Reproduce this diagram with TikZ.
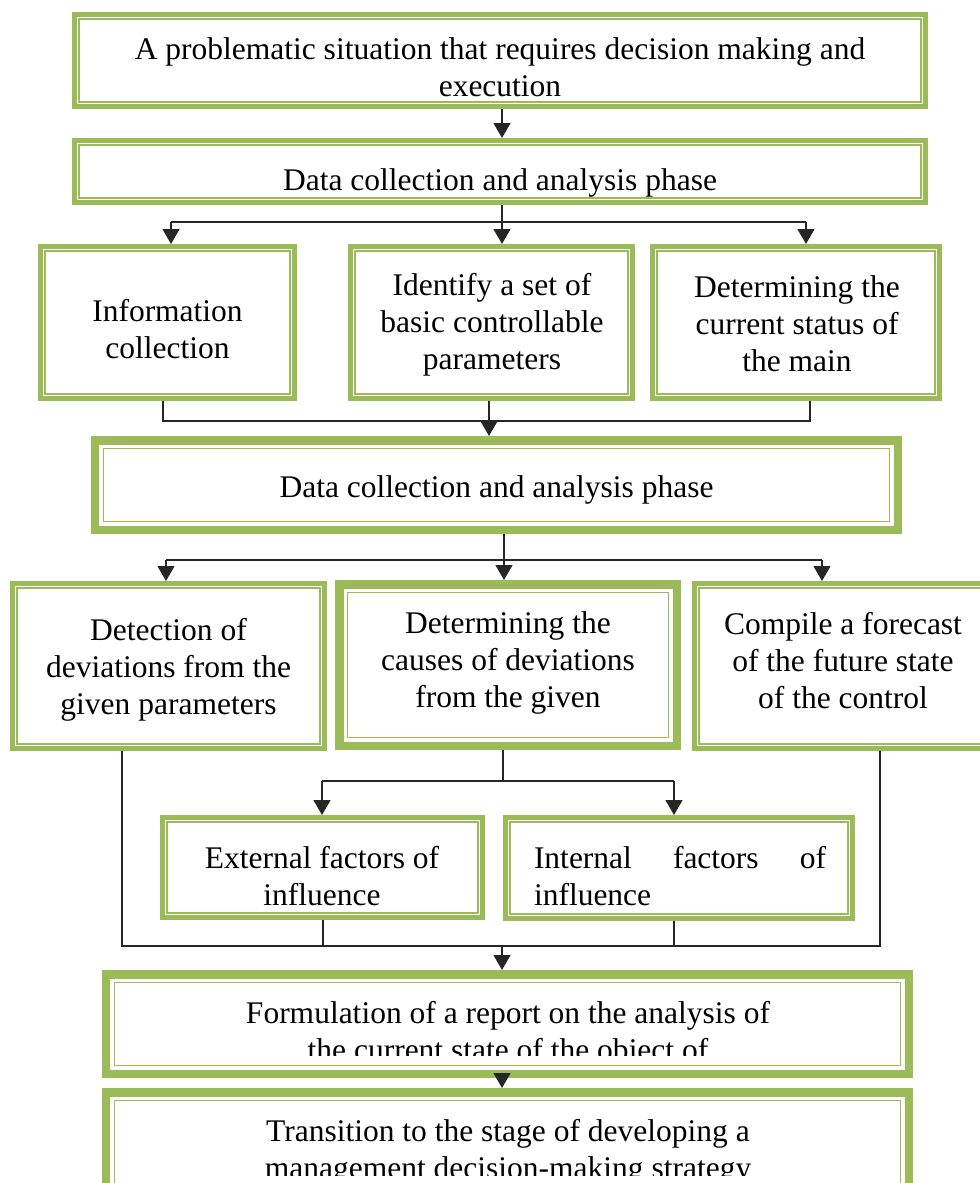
\documentclass[tikz,border=0pt]{standalone}
\usepackage{fontspec}
\setmainfont{Liberation Serif}
\usetikzlibrary{arrows.meta,calc}
\definecolor{boxgreen}{RGB}{155,187,89}
\begin{document}
\begin{tikzpicture}[x=1bp,y=-1bp,
  thinbox/.style={draw=boxgreen, line width=5bp, inner sep=0pt},
  thickbox/.style={draw=boxgreen, line width=8.5bp, inner sep=0pt},
  innerline/.style={draw=boxgreen, line width=1.3bp},
  lbl/.style={font=\fontsize{31.5bp}{37bp}\selectfont, align=center, inner sep=0pt},
  link/.style={draw=black!85, line width=1.3bp},
  arr/.style={link, -{Triangle[width=17bp,length=15bp]}},
]
\useasboundingbox (0,0) rectangle (980,1183);

% boxes
\node[thinbox, minimum width=851bp, minimum height=92bp] (b1) at (500,60.5) {};
\node[thinbox, minimum width=851bp, minimum height=62bp] (b2) at (500,171.5) {};
\node[thinbox, minimum width=254bp, minimum height=152bp] (r3l) at (167.5,322.5) {};
\node[thinbox, minimum width=282bp, minimum height=152bp] (r3m) at (491.5,322.5) {};
\node[thinbox, minimum width=287bp, minimum height=152bp] (r3r) at (796,322.5) {};
\node[thickbox, minimum width=802.5bp, minimum height=89.5bp] (b4) at (496.5,485) {};
\node[thinbox, minimum width=312bp, minimum height=165bp] (r5l) at (168.5,666) {};
\node[thickbox, minimum width=337.5bp, minimum height=161.5bp] (r5m) at (508,665) {};
\node[thinbox, minimum width=303bp, minimum height=165bp] (r5r) at (846,666) {};
\node[thinbox, minimum width=320bp, minimum height=100bp] (r6l) at (322.5,867.5) {};
\node[thinbox, minimum width=347bp, minimum height=101bp] (r6r) at (679,868) {};
\node[thickbox, minimum width=802.5bp, minimum height=99.5bp] (b7) at (507.5,1024) {};
\node[thickbox, minimum width=802.5bp, minimum height=113.5bp] (b8) at (507.5,1149) {};

% inner thin lines
\foreach \n in {b1,b2,r3l,r3m,r3r,r5l,r5r,r6l,r6r}
  \draw[innerline] ([shift={(7,7)}]\n.north west) rectangle ([shift={(-7,-7)}]\n.south east);
\foreach \n in {b4,r5m,b7,b8}
  \draw[innerline, line width=1.6bp] ([shift={(12.5,12.5)}]\n.north west) rectangle ([shift={(-12.5,-12.5)}]\n.south east);

% texts
\node[lbl] (t1) at (500,67.5) {A problematic situation that requires decision making and\\execution};
\node[lbl] (t2) at (500,183) {Data collection and analysis phase};
\node[lbl] (t3l) at (167.5,329.5) {Information\\collection};
\node[lbl] (t3m) at (492,325) {Identify a set of\\basic controllable\\parameters};
\node[lbl] (t3r) at (797,323.5) {Determining the\\current status of\\the main};
\node[lbl] (t4) at (496.5,490) {Data collection and analysis phase};
\node[lbl] (t5l) at (168.5,669.5) {Detection of\\deviations from the\\given parameters};
\node[lbl] (t5m) at (508,663) {Determining the\\causes of deviations\\from the given};
\node[lbl] (t5r) at (843,660.5) {Compile a forecast\\of the future state\\of the control};
\node[lbl] (t6l) at (322,876.5) {External factors of\\influence};
\node[lbl] (t6r) at (680,876.5) {\parbox{292bp}{Internal\hfill factors\hfill of\\influence}};
\begin{scope}
  \clip (110,985) rectangle (905,1055);
  \node[lbl] (t7) at (508,1034.5) {Formulation of a report on the analysis of\\the current state of the object of};
\end{scope}
\begin{scope}
  \clip (110,1100) rectangle (905,1175);
  \node[lbl] (t8) at (508,1152.5) {Transition to the stage of developing a\\management decision-making strategy};
\end{scope}

% junction coordinates
\coordinate (c0) at (502,0);
\coordinate (h1l) at (171,222);
\coordinate (h1m) at (502,222);
\coordinate (h1r) at (806,222);
\coordinate (h2l) at (163,421);
\coordinate (h2m) at (489,421);
\coordinate (h2r) at (810,421);
\coordinate (h3l) at (166,560);
\coordinate (h3m) at (504,560);
\coordinate (h3r) at (822,560);
\coordinate (h4l) at (322,781);
\coordinate (h4m) at (503,781);
\coordinate (h4r) at (674,781);
\coordinate (h5l) at (122,946);
\coordinate (h5a) at (323,946);
\coordinate (h5m) at (502,946);
\coordinate (h5b) at (674,946);
\coordinate (h5r) at (880,946);

% connectors
\draw[arr] (b1.south -| c0) -- (b2.north -| c0);

\draw[link] (b2.south -| h1m) -- (h1m);
\draw[link] (h1l) -- (h1r);
\draw[arr] (h1l) -- (r3l.north -| h1l);
\draw[arr] (h1m) -- (r3m.north -| h1m);
\draw[arr] (h1r) -- (r3r.north -| h1r);

\draw[link] (r3l.south -| h2l) -- (h2l) -- (h2r) -- (r3r.south -| h2r);
\draw[link] (r3m.south -| h2m) -- (h2m);
\draw[arr] (h2m) -- (b4.north -| h2m);

\draw[link] (b4.south -| h3m) -- (h3m);
\draw[link] (h3l) -- (h3r);
\draw[arr] (h3l) -- (r5l.north -| h3l);
\draw[arr] (h3m) -- (r5m.north -| h3m);
\draw[arr] (h3r) -- (r5r.north -| h3r);

\draw[link] (r5m.south -| h4m) -- (h4m);
\draw[link] (h4l) -- (h4r);
\draw[arr] (h4l) -- (r6l.north -| h4l);
\draw[arr] (h4r) -- (r6r.north -| h4r);

\draw[link] (r5l.south -| h5l) -- (h5l) -- (h5r) -- (r5r.south -| h5r);
\draw[link] (r6l.south -| h5a) -- (h5a);
\draw[link] (r6r.south -| h5b) -- (h5b);
\draw[arr] (h5m) -- (b7.north -| h5m);

\draw[arr] (b7.south -| h5m) -- (b8.north -| h5m);
\end{tikzpicture}
\end{document}
